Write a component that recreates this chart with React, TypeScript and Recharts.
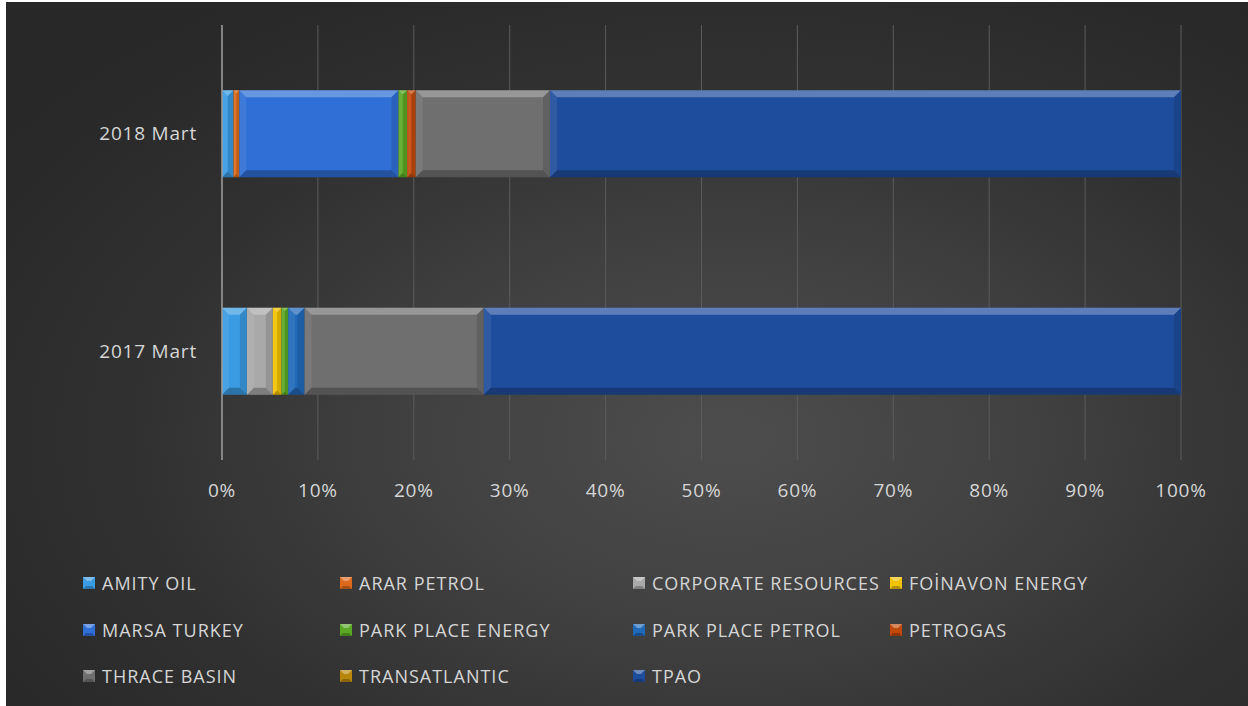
import { BarChart, Bar, XAxis, YAxis, CartesianGrid } from 'recharts';

// categories, top to bottom
const categories = ['2018 Mart', '2017 Mart'];

// share of each company (percent), same order as categories
const amityOil = [1.2, 2.6];
const ararPetrol = [0.6, 0];
const corporateResources = [0, 2.7];
const foinavonEnergy = [0, 0.9];
const marsaTurkey = [16.6, 0];
const parkPlaceEnergy = [0.9, 0.7];
const parkPlacePetrol = [0, 1.7];
const petrogas = [0.9, 0];
const thraceBasin = [14.0, 18.7];
const transatlantic = [0, 0];
const tpao = [65.8, 72.7];

const xTicks = [0, 0.1, 0.2, 0.3, 0.4, 0.5, 0.6, 0.7, 0.8, 0.9, 1];

const series = [
  { name: 'AMITY OIL', values: amityOil, color: '#3a9be2' },
  { name: 'ARAR PETROL', values: ararPetrol, color: '#dd6a1c' },
  { name: 'CORPORATE RESOURCES', values: corporateResources, color: '#a9a9a9' },
  { name: 'FOİNAVON ENERGY', values: foinavonEnergy, color: '#f2c100' },
  { name: 'MARSA TURKEY', values: marsaTurkey, color: '#2f6fd6' },
  { name: 'PARK PLACE ENERGY', values: parkPlaceEnergy, color: '#5aa824' },
  { name: 'PARK PLACE PETROL', values: parkPlacePetrol, color: '#1f69b9' },
  { name: 'PETROGAS', values: petrogas, color: '#c2490c' },
  { name: 'THRACE BASIN', values: thraceBasin, color: '#6f6f6f' },
  { name: 'TRANSATLANTIC', values: transatlantic, color: '#b8860b' },
  { name: 'TPAO', values: tpao, color: '#1f4d9d' },
];

const data = categories.map((category, i) => {
  const row: Record<string, string | number> = { category };
  series.forEach((s) => {
    row[s.name] = s.values[i];
  });
  return row;
});

const textColor = '#d6d6d6';
const font = '"Open Sans", "DejaVu Sans", sans-serif';

// bevelled rectangle like the Excel style
function BevelBar(props: any) {
  const { x, y, width, height, fill } = props;
  if (!width || width <= 0.5 || !height) return null;
  const b = Math.min(7, width / 2);
  return (
    <g>
      <rect x={x} y={y} width={width} height={height} fill={fill} />
      <polygon
        points={`${x},${y} ${x + width},${y} ${x + width - b},${y + b} ${x + b},${y + b}`}
        fill="#ffffff"
        fillOpacity={0.28}
      />
      <polygon
        points={`${x},${y} ${x + b},${y + b} ${x + b},${y + height - b} ${x},${y + height}`}
        fill="#ffffff"
        fillOpacity={0.08}
      />
      <polygon
        points={`${x + width},${y} ${x + width},${y + height} ${x + width - b},${y + height - b} ${x + width - b},${y + b}`}
        fill="#000000"
        fillOpacity={0.12}
      />
      <polygon
        points={`${x},${y + height} ${x + width},${y + height} ${x + width - b},${y + height - b} ${x + b},${y + height - b}`}
        fill="#000000"
        fillOpacity={0.25}
      />
    </g>
  );
}

function LegendMarker({ color }: { color: string }) {
  return (
    <svg width={12} height={12} style={{ flex: 'none' }}>
      <rect x={0} y={0} width={12} height={12} fill={color} />
      <polygon points="0,0 12,0 8,4 4,4" fill="#fff" fillOpacity={0.35} />
      <polygon points="0,12 12,12 9,9 3,9" fill="#000" fillOpacity={0.25} />
    </svg>
  );
}

export default function App() {
  return (
    <div style={{ position: 'absolute', left: 0, top: 0, width: 1248, height: 706, background: '#fff' }}>
      <style>{`body{margin:0}`}</style>
      <div
        style={{
          position: 'absolute',
          left: 6,
          top: 2,
          width: 1242,
          height: 704,
          background:
            'radial-gradient(ellipse 70% 75% at 58% 62%, #4d4d4d 0%, #414141 35%, #303030 70%, #282828 100%)',
          fontFamily: font,
        }}
      >
        <BarChart
          width={1242}
          height={520}
          data={data}
          layout="vertical"
          stackOffset="expand"
          barCategoryGap="30%"
          margin={{ top: 23, right: 67, bottom: 0, left: 0 }}
        >
          <CartesianGrid horizontal={false} stroke="#5c5c5c" strokeWidth={1} />
          <XAxis
            type="number"
            domain={[0, 1]}
            ticks={xTicks}
            tickFormatter={(v: number) => `${Math.round(v * 100)}%`}
            axisLine={false}
            tickLine={false}
            tickSize={0}
            tickMargin={24}
            height={62}
            interval={0}
            tick={{ fill: textColor, fontSize: 19, fontFamily: font, letterSpacing: 0.8 }}
          />
          <YAxis
            type="category"
            dataKey="category"
            width={216}
            axisLine={{ stroke: '#9a9a9a', strokeWidth: 1.5 }}
            tickLine={false}
            tickSize={0}
            tickMargin={25}
            tick={{ fill: textColor, fontSize: 19, fontFamily: font, letterSpacing: 0.8 }}
          />
          {series.map((s) => (
            <Bar
              key={s.name}
              dataKey={s.name}
              name={s.name}
              stackId="a"
              fill={s.color}
              shape={<BevelBar />}
              isAnimationActive={false}
            />
          ))}
        </BarChart>
        <div
          style={{
            position: 'absolute',
            left: 77,
            top: 558,
            display: 'grid',
            gridTemplateColumns: '257px 293px 257px 320px',
            gridAutoRows: '46.5px',
          }}
        >
          {series.map((s) => (
            <div key={s.name} style={{ display: 'flex', alignItems: 'center', whiteSpace: 'nowrap' }}>
              <LegendMarker color={s.color} />
              <span
                style={{
                  marginLeft: 7,
                  color: textColor,
                  fontSize: 18,
                  letterSpacing: 1,
                  lineHeight: '20px',
                }}
              >
                {s.name}
              </span>
            </div>
          ))}
        </div>
      </div>
    </div>
  );
}
